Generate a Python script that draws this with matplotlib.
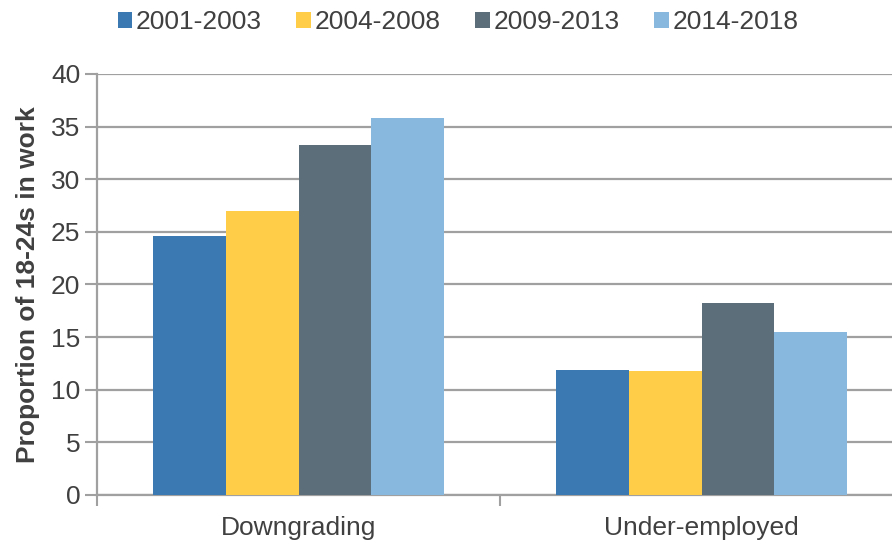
import numpy as np
import matplotlib
matplotlib.use('Agg')
import matplotlib.pyplot as plt

# categories and series values
categories = ['Downgrading', 'Under-employed']
periods = ['2001-2003', '2004-2008', '2009-2013', '2014-2018']
values = {
    '2001-2003': [24.6, 11.9],
    '2004-2008': [27.0, 11.8],
    '2009-2013': [33.3, 18.2],
    '2014-2018': [35.8, 15.5],
}
colors = ['#3A79B1', '#FFCD47', '#5B6E7A', '#88B8DD']
yticks = [0, 5, 10, 15, 20, 25, 30, 35, 40]

plt.rcParams['font.family'] = ['Liberation Sans', 'DejaVu Sans']
text_col = '#404040'
grid_col = '#A0A0A0'
fs = 19

fig = plt.figure(figsize=(8.92, 5.40), dpi=100)
# axes runs a little past the right edge, like the original crop
ax = fig.add_axes([97 / 892, 45 / 540, 806 / 892, 421 / 540])

x = np.arange(len(categories))
width = 0.181
for i, p in enumerate(periods):
    ax.bar(x + (i - 1.5) * width, values[p], width, color=colors[i], label=p, zorder=3)

ax.set_xlim(-0.5, 1.5)
ax.set_ylim(0, 40)
ax.set_yticks(yticks)
ax.yaxis.grid(True, color=grid_col, linewidth=1.6, zorder=0)

# category labels between separators
ax.set_xticks(x)
ax.set_xticklabels(categories, fontsize=fs, color=text_col)
ax.tick_params(axis='x', length=0, pad=15)
ax.set_xticks([-0.5, 0.5, 1.5], minor=True)
ax.tick_params(axis='x', which='minor', length=8, width=1.5, color=grid_col)
ax.tick_params(axis='y', length=9, width=1.5, color=grid_col, labelsize=fs,
               labelcolor=text_col, pad=3)

for s in ['top', 'right']:
    ax.spines[s].set_visible(False)
for s in ['left', 'bottom']:
    ax.spines[s].set_color(grid_col)
    ax.spines[s].set_linewidth(1.6)

ax.set_ylabel('Proportion of 18-24s in work', fontsize=fs, fontweight='bold',
              color=text_col, labelpad=8)

leg = fig.legend(loc='upper center', bbox_to_anchor=(458 / 892, 1.025), ncol=4,
                 frameon=False, fontsize=fs, handlelength=0.55, handleheight=0.55,
                 handletextpad=0.15, columnspacing=1.3)
for t in leg.get_texts():
    t.set_color(text_col)

plt.savefig('out.png', dpi=100)
